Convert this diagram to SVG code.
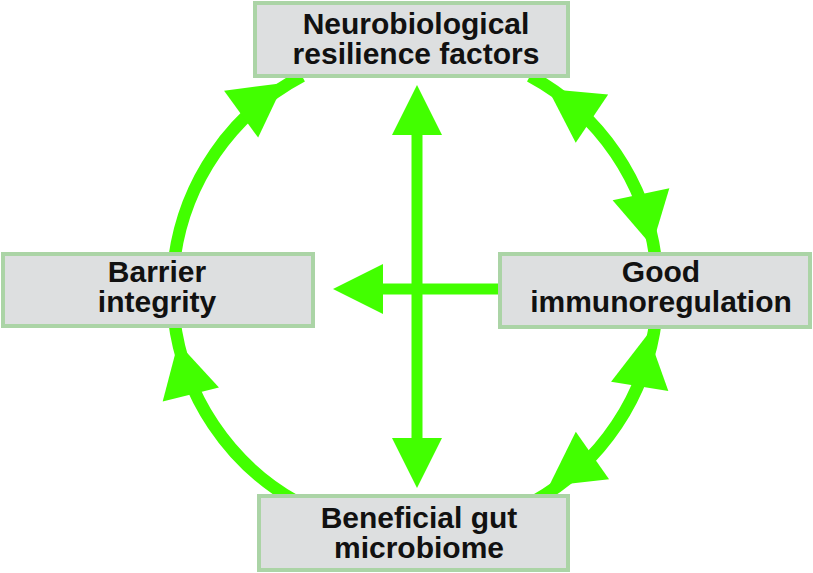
<svg xmlns="http://www.w3.org/2000/svg" xmlns:xlink="http://www.w3.org/1999/xlink" width="813" height="573" viewBox="0 0 813 573">
  <style>
    .box { fill: #dddfe0; stroke: #abd4a6; stroke-width: 4; }
    .lbl { font-family: "Liberation Sans", Arial, sans-serif; font-weight: bold; font-size: 30px; fill: #111111; text-anchor: middle; }
    .arc { fill: none; stroke: #42ff00; stroke-width: 12.5; }
    .bar { fill: none; stroke: #42ff00; stroke-width: 11; }
    .head { fill: #42ff00; }
  </style>
  <defs>
    <path id="ahArc" class="head" d="M0,0 L-53,-29 L-53,29 Z"/>
    <path id="ahBar" class="head" d="M0,0 L-50,-25 L-50,25 Z"/>
  </defs>
  <rect width="813" height="573" fill="#ffffff"/>
  <g id="connectors">
    <path class="arc" d="M174,262 A243,243 0 0 1 302,76"/>
    <path class="arc" d="M297,502 A243,243 0 0 1 174,318"/>
    <path class="arc" d="M530,76 A243,243 0 0 1 656,262"/>
    <path class="arc" d="M656,318 A243,243 0 0 1 533,502"/>
    <use xlink:href="#ahArc" href="#ahArc" transform="translate(284,83) rotate(-36)"/>
    <use xlink:href="#ahArc" href="#ahArc" transform="translate(178,343) rotate(-104)"/>
    <use xlink:href="#ahArc" href="#ahArc" transform="translate(548,89) rotate(-146)"/>
    <use xlink:href="#ahArc" href="#ahArc" transform="translate(652,246) rotate(78)"/>
    <use xlink:href="#ahArc" href="#ahArc" transform="translate(648,334) rotate(-81)"/>
    <use xlink:href="#ahArc" href="#ahArc" transform="translate(549,486) rotate(145)"/>
    <path class="bar" d="M417,130 L417,442"/>
    <path class="bar" d="M378,289 L502,289"/>
    <use xlink:href="#ahBar" href="#ahBar" transform="translate(417,85) rotate(-90)"/>
    <use xlink:href="#ahBar" href="#ahBar" transform="translate(417,488) rotate(90)"/>
    <use xlink:href="#ahBar" href="#ahBar" transform="translate(333,289) rotate(180)"/>
  </g>
  <g id="node-neuro">
    <rect class="box" x="255" y="3" width="313" height="73"/>
    <text class="lbl" x="416" y="34">Neurobiological<tspan x="416" y="64">resilience factors</tspan></text>
  </g>
  <g id="node-barrier">
    <rect class="box" x="3" y="254" width="310" height="72"/>
    <text class="lbl" x="157" y="282">Barrier<tspan x="157" y="312">integrity</tspan></text>
  </g>
  <g id="node-immuno">
    <rect class="box" x="500" y="254" width="310" height="73"/>
    <text class="lbl" x="661" y="282">Good<tspan x="661" y="312">immunoregulation</tspan></text>
  </g>
  <g id="node-microbiome">
    <rect class="box" x="259" y="496" width="309" height="74"/>
    <text class="lbl" x="419" y="528">Beneficial gut<tspan x="419" y="558">microbiome</tspan></text>
  </g>
</svg>
